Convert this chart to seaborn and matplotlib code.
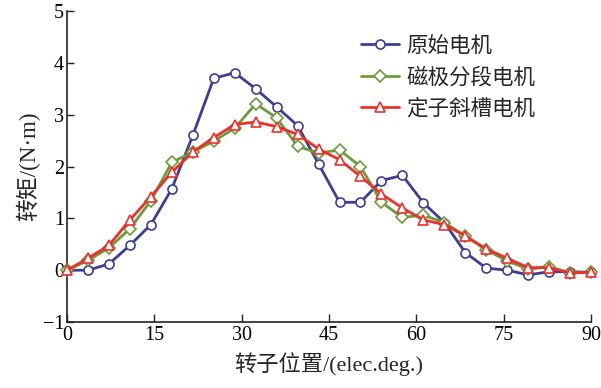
import numpy as np
import pandas as pd
import seaborn as sns
from matplotlib import pyplot as plt

# Rotor position (elec. deg), one sample every 3.6 deg
position = [round(3.6 * i, 1) for i in range(26)]

# Torque (N*m)
original = [0.00, 0.00, 0.12, 0.48, 0.88, 1.57, 2.60, 3.70, 3.81, 3.50,
            3.15, 2.79, 2.05, 1.31, 1.31, 1.73, 1.83, 1.30, 0.92, 0.34,
            0.04, 0.00, -0.09, -0.03, -0.03, -0.04]
segmented = [0.00, 0.19, 0.43, 0.80, 1.34, 2.08, 2.28, 2.49, 2.74, 3.21,
             2.94, 2.39, 2.26, 2.32, 2.00, 1.31, 1.02, 1.06, 0.92, 0.66,
             0.39, 0.18, 0.02, 0.07, -0.06, -0.03]
skewed = [0.00, 0.23, 0.48, 0.97, 1.42, 1.89, 2.28, 2.56, 2.81, 2.86,
          2.77, 2.62, 2.34, 2.13, 1.81, 1.47, 1.20, 0.97, 0.88, 0.66,
          0.41, 0.23, 0.05, 0.05, -0.05, -0.04]

labels = ['原始电机', '磁极分段电机', '定子斜槽电机']
colors = ['#3d3d96', '#6b9b3a', '#e8322b']
markers = ['o', 'D', '^']
msizes = [6.5, 6.5, 7.5]

sns.set_style('ticks')
plt.rcParams['font.family'] = ['Liberation Serif', 'Noto Sans CJK SC', 'DejaVu Sans']
plt.rcParams['axes.unicode_minus'] = True

fig = plt.figure(figsize=(6.01, 3.88), dpi=100)
ax = fig.add_axes([0.1115, 0.170, 0.872, 0.8016])

for vals, lab, col, mk, ms in zip([original, segmented, skewed], labels, colors, markers, msizes):
    df = pd.DataFrame({'x': position, 'y': vals})
    sns.lineplot(data=df, x='x', y='y', ax=ax, color=col, marker=mk, markersize=ms,
                 markerfacecolor='white', markeredgecolor=col, markeredgewidth=1.2,
                 linewidth=2.0, label=lab, clip_on=False, zorder=3)

ax.set_xlim(0, 90)
ax.set_ylim(-1, 5)
ax.set_xticks(np.arange(0, 91, 15))
ax.set_yticks(np.arange(-1, 6, 1))
ax.set_yticklabels(['−1', '0', '1', '2', '3', '4', '5'])
ax.tick_params(direction='in', labelsize=14.5, width=1.0, colors='#222222', labelcolor='black')
ax.tick_params(axis='x', length=6, pad=3)
ax.tick_params(axis='y', length=5, pad=2)

sns.despine(ax=ax)
for s in ['left', 'bottom']:
    ax.spines[s].set_linewidth(1.2)
    ax.spines[s].set_color('#222222')

ax.set_xlabel('转子位置/(elec.deg.)', fontsize=16, labelpad=5)
ax.set_ylabel('转矩/(N·m)', fontsize=16.5, labelpad=2)

leg = ax.legend(loc='upper left', bbox_to_anchor=(0.545, 0.945), frameon=False,
                fontsize=15.5, handlelength=1.75, handletextpad=0.35, labelspacing=0.5,
                borderaxespad=0)

fig.savefig('out.png', dpi=100)
